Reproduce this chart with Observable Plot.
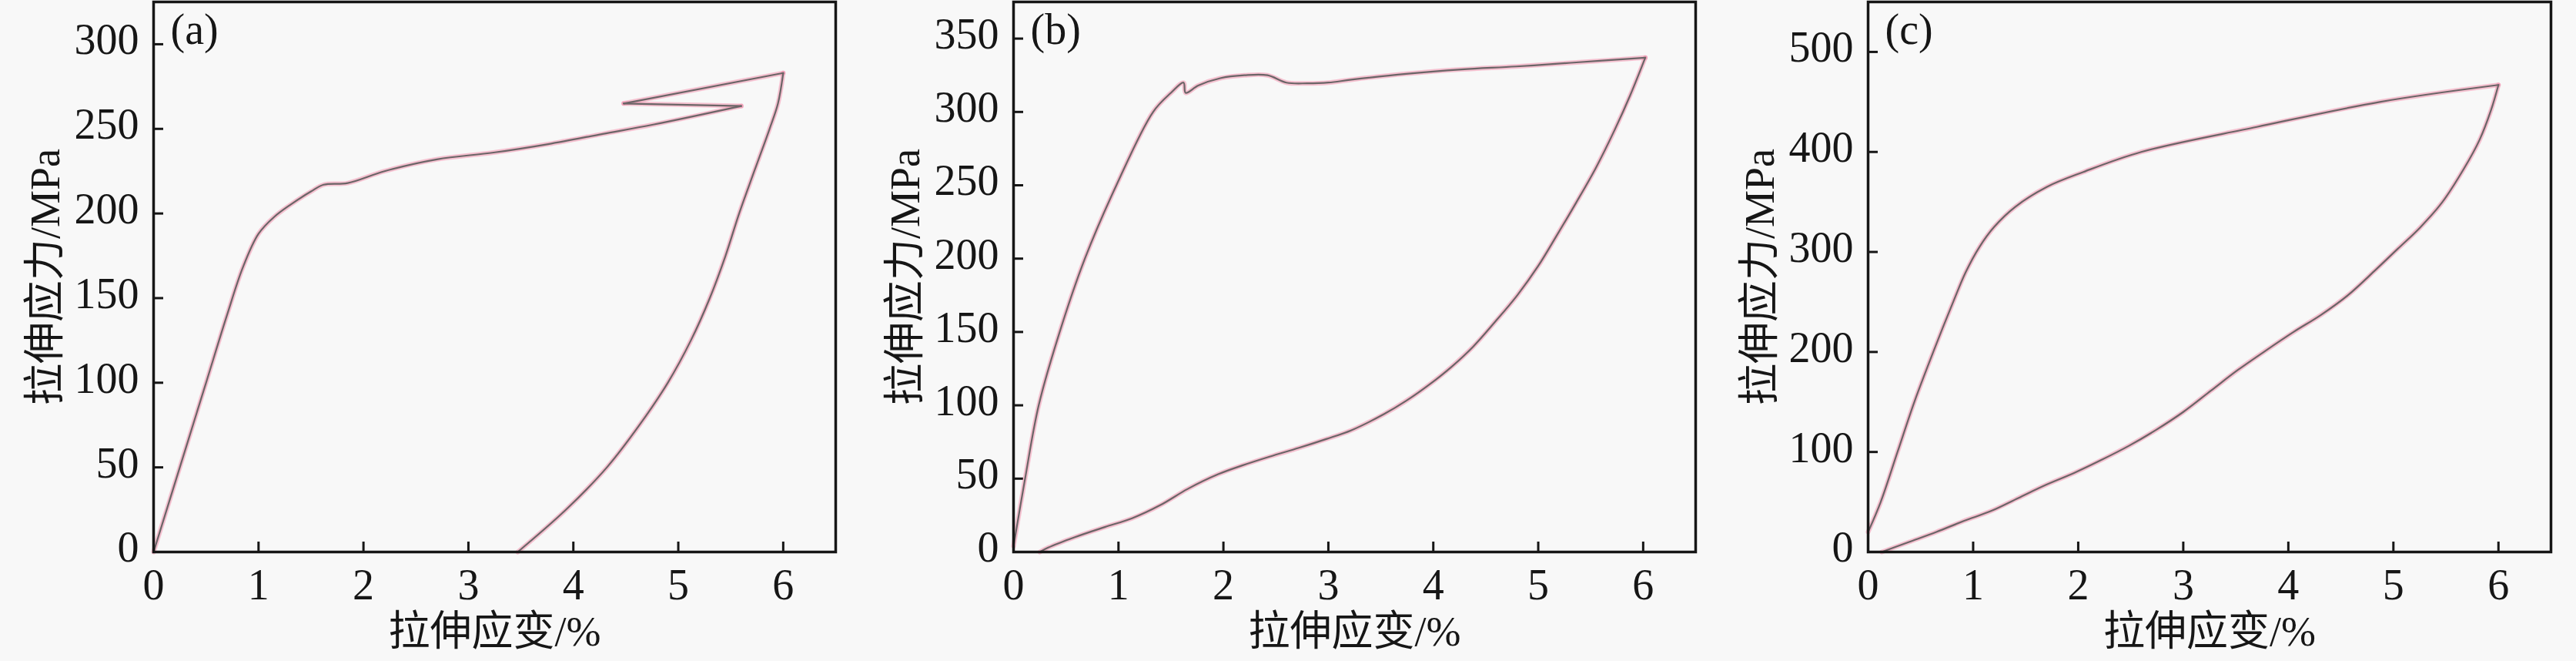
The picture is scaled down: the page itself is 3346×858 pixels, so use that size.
<!DOCTYPE html>
<html><head><meta charset="utf-8">
<script src="https://cdn.jsdelivr.net/npm/d3@7"></script>
<script src="https://cdn.jsdelivr.net/npm/@observablehq/plot@0.6"></script>
<style>
html,body{margin:0;padding:0;background:#f8f8f8;}
#wrap{position:relative;width:3346px;height:858px;overflow:hidden;}
.panel{position:absolute;top:0;}
</style></head><body><div id="wrap"></div>
<script>
// Panel (a)
const strainA = [0, 0.25, 0.50, 0.70, 0.85, 1.00, 1.15, 1.30, 1.50, 1.62, 1.85, 2.20, 2.70, 3.24, 3.76, 4.28, 4.76, 5.60, 4.48, 6.00,
  5.95, 5.87, 5.73, 5.58, 5.45, 5.30, 5.12, 4.90, 4.63, 4.32, 3.93, 3.47];
const stressA = [0, 50, 100, 140, 168, 188, 198, 205, 213, 217, 218, 225, 232, 236, 241, 247, 252.5, 263.5, 265, 283,
  265, 250, 226, 200, 175, 150, 125, 100, 75, 50, 25, 0];
// Panel (b)
const strainB = [0, 0.11, 0.24, 0.44, 0.68, 0.98, 1.33, 1.50, 1.62, 1.64, 1.76, 1.97, 2.20, 2.42, 2.60, 2.80, 3.00, 3.22, 3.74, 4.27, 4.79, 5.31, 6.02,
  5.88, 5.73, 5.55, 5.36, 5.17, 5.00, 4.80, 4.59, 4.38, 4.17, 3.96, 3.74, 3.53, 3.22, 2.98, 2.72, 2.44, 2.18, 1.95, 1.66, 1.40, 1.13, 0.87, 0.58, 0.33, 0.25];
const stressB = [4, 50, 100, 150, 200, 250, 300, 313, 320, 313, 318, 323, 325, 325, 320, 319.5, 320, 322, 326, 329, 331, 333.5, 337,
  312, 288, 262, 238, 215, 195, 175, 157, 140, 126, 114, 103, 94, 83, 77, 71, 65, 59, 53, 43, 32, 23, 17, 10, 3, 0];
// Panel (c)
const strainC = [0, 0.12, 0.28, 0.44, 0.62, 0.81, 0.93, 1.06, 1.20, 1.40, 1.70, 2.05, 2.60, 3.70, 4.87, 6.00,
  5.93, 5.82, 5.67, 5.46, 5.25, 5.04, 4.83, 4.57, 4.31, 4.05, 3.78, 3.52, 3.26, 3.00, 2.74, 2.48, 2.22, 1.96, 1.69, 1.43, 1.17, 0.91, 0.65, 0.39, 0.13];
const stressC = [20, 50, 100, 150, 200, 250, 280, 305, 325, 345, 365, 380, 400, 425, 450, 467,
  442, 412, 383, 349, 324, 303, 282, 257, 237, 220, 201, 182, 161, 140, 122, 106, 92, 79, 67, 54, 41, 31, 20, 10, 0];

const xTicks = [0, 1, 2, 3, 4, 5, 6];
const yTicksA = [0, 50, 100, 150, 200, 250, 300];
const yTicksB = [0, 50, 100, 150, 200, 250, 300, 350];
const yTicksC = [0, 100, 200, 300, 400, 500];
const tags = ["(a)", "(b)", "(c)"];
const xLabel = "拉伸应变/%";
const yLabel = "拉伸应力/MPa";

const FONT = '"Liberation Serif", "Noto Sans CJK SC", serif';

// split a path where the strain direction reverses, so turning points stay sharp
function toSegments(xs, ys) {
  const out = [];
  let seg = 0, dir = Math.sign(xs[1] - xs[0]);
  out.push({x: xs[0], y: ys[0], s: seg});
  for (let i = 1; i < xs.length; i++) {
    const d = Math.sign(xs[i] - xs[i - 1]);
    if (d !== 0 && d !== dir) {
      seg++;
      out.push({x: xs[i - 1], y: ys[i - 1], s: seg});
      dir = d;
    }
    out.push({x: xs[i], y: ys[i], s: seg});
  }
  return out;
}

function panel(strain, stress, yDomain, yTicks, tag, left, width, mLeft, mRight) {
  const H = 858, mTop = 2, mBottom = 142;
  const pw = width - mLeft - mRight, ph = H - mTop - mBottom;
  const pts = toSegments(strain, stress);
  const svg = Plot.plot({
    width, height: H, marginLeft: mLeft, marginRight: mRight, marginTop: mTop, marginBottom: mBottom,
    style: {background: "#f8f8f8", fontFamily: FONT, color: "#161616", fontSize: "56px"},
    x: {domain: [0, 6.5]},
    y: {domain: yDomain},
    marks: [
      Plot.axisX({ticks: xTicks, tickFormat: d => String(d), tickSize: 0, tickPadding: 22, fontSize: 56, label: null}),
      Plot.axisY({ticks: yTicks, tickFormat: d => String(d), tickSize: 0, tickPadding: 19, fontSize: 56, label: null, dy: -5}),
      Plot.tickX(xTicks, {x: d => d, insetTop: ph - 13, strokeWidth: 3, stroke: "#161616"}),
      Plot.tickY(yTicks, {y: d => d, insetRight: pw - 13, strokeWidth: 3, stroke: "#161616"}),
      Plot.line(pts, {x: "x", y: "y", z: "s", stroke: "#f28aa8", strokeWidth: 6, strokeOpacity: 0.5, curve: "catmull-rom"}),
      Plot.line(pts, {x: "x", y: "y", z: "s", stroke: "#6b6567", strokeWidth: 2.2, curve: "catmull-rom"}),
      Plot.frame({stroke: "#161616", strokeWidth: 3.5}),
      Plot.text([tag], {frameAnchor: "top-left", dx: 22, dy: 15, lineAnchor: "top", textAnchor: "start", fontSize: 56, fill: "#161616"}),
      Plot.text([xLabel], {frameAnchor: "bottom", dy: 104, fontSize: 54, textAnchor: "middle", lineAnchor: "middle", fill: "#161616"}),
      Plot.text([yLabel], {frameAnchor: "left", dx: -140, rotate: -90, fontSize: 54, textAnchor: "middle", lineAnchor: "middle", fill: "#161616"})
    ]
  });
  svg.classList.add("panel");
  svg.style.left = left + "px";
  document.getElementById("wrap").appendChild(svg);
}

panel(strainA, stressA, [0, 325], yTicksA, tags[0], 0, 1115, 199, 30);
panel(strainB, stressB, [0, 375], yTicksB, tags[1], 1115, 1115, 201, 28);
panel(strainC, stressC, [0, 550], yTicksC, tags[2], 2230, 1116, 196, 33);
</script>
</body></html>
